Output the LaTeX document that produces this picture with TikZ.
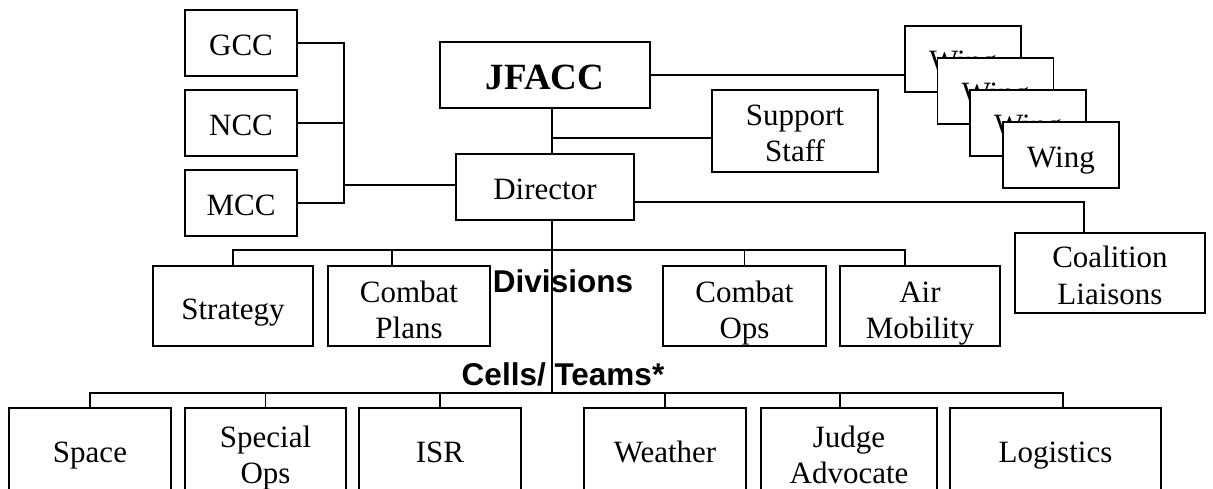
\documentclass[tikz,border=0pt]{standalone}
\usepackage{fontspec}
\setmainfont{Liberation Serif}
\newfontfamily\lsans{Liberation Sans}
\begin{document}
\begin{tikzpicture}[x=1pt,y=1pt,
  box/.style={draw=black, line width=1.3pt, fill=white, inner sep=0pt, align=center,
              font=\fontsize{31}{36}\selectfont},
  one/.style={text height=26pt, text depth=0pt},
  two/.style={text height=64pt, text depth=0pt},
  conn/.style={line width=1.3pt},
  lbl/.style={font=\lsans\bfseries\fontsize{31.5}{34}\selectfont, inner sep=0pt, anchor=base}]
\useasboundingbox (0,0) rectangle (1213,-489);
\clip (0,0) rectangle (1213,-489);
% coordinates for buses
\coordinate (lbus) at (344,0);
\coordinate (main) at (552,0);
\coordinate (divbus) at (0,-250);
\coordinate (cellbus) at (0,-393);
% labels
\node[lbl] (div) at (563,-292) {Divisions};
\node[lbl] (cells) at (563,-385) {Cells/ Teams*};
% top nodes
\node[box, one, minimum width=112, minimum height=66] (gcc) at (241,-43) {GCC};
\node[box, one, minimum width=112, minimum height=66] (ncc) at (241,-123) {NCC};
\node[box, one, minimum width=112, minimum height=66] (mcc) at (241,-203) {MCC};
\node[box, minimum width=210, minimum height=66, text height=30pt, text depth=0pt,
      font=\bfseries\fontsize{37}{40}\selectfont] (jfacc) at (545,-75) {JFACC};
\node[box, two, text height=62pt, minimum width=166, minimum height=82] (support) at (795,-131) {Support\\Staff};
\node[box, one, minimum width=178, minimum height=66] (director) at (545,-187) {Director};
\node[box, one, minimum width=116, minimum height=66] (wing1) at (963,-59) {Wing};
\node[box, one, minimum width=116, minimum height=66] (wing2) at (995.5,-91) {Wing};
\node[box, one, minimum width=116, minimum height=66] (wing3) at (1028,-123) {Wing};
\node[box, one, minimum width=116, minimum height=66] (wing4) at (1061,-155) {Wing};
\node[box, two, text height=62pt, minimum width=190, minimum height=80] (coalition) at (1110,-273) {Coalition\\Liaisons};
% divisions
\node[box, one, minimum width=160, minimum height=80] (strategy) at (233,-306) {Strategy};
\node[box, two, minimum width=162, minimum height=80] (cplans) at (409,-306) {Combat\\Plans};
\node[box, two, minimum width=163, minimum height=80] (cops) at (744.5,-306) {Combat\\Ops};
\node[box, two, minimum width=160, minimum height=80] (airmob) at (920,-306) {Air\\Mobility};
% cells
\node[box, one, text height=22pt, minimum width=162, minimum height=86] (space) at (90,-451) {Space};
\node[box, two, minimum width=161, minimum height=86] (specops) at (265.5,-451) {Special\\Ops};
\node[box, one, text height=22pt, minimum width=162, minimum height=86] (isr) at (440,-451) {ISR};
\node[box, one, text height=22pt, minimum width=162, minimum height=86] (weather) at (665,-451) {Weather};
\node[box, two, minimum width=176, minimum height=86] (judge) at (849,-451) {Judge\\Advocate};
\node[box, one, text height=22pt, minimum width=211, minimum height=86] (logistics) at (1055.5,-451) {Logistics};
% connectors: component commanders
\draw[conn] (gcc.east) -- (gcc.east -| lbus) -- (mcc.east -| lbus) -- (mcc.east);
\draw[conn] (ncc.east) -- (ncc.east -| lbus);
\draw[conn] ([yshift=2pt]director.west) -- ([yshift=2pt]director.west -| lbus);
% JFACC to wings, director, support
\draw[conn] (jfacc.east) -- (jfacc.east -| wing1.west);
\draw[conn] (jfacc.south -| main) -- (director.north -| main);
\draw[conn] ([yshift=-7pt]support.west) -- ([yshift=-7pt]support.west -| main);
\draw[conn] ([yshift=-15pt]director.east) -| ([xshift=-26pt]coalition.north);
% main trunk
\draw[conn] (director.south -| main) -- (cellbus -| main);
% divisions bus
\draw[conn] (strategy.north) |- ([xshift=-15pt]airmob.north |- divbus) -- ([xshift=-15pt]airmob.north);
\draw[conn] ([xshift=-17pt]cplans.north) -- ([xshift=-17pt]cplans.north |- divbus);
\draw[conn] (cops.north) -- (cops.north |- divbus);
% cells bus
\draw[conn] (space.north) |- ([xshift=7.5pt]logistics.north |- cellbus) -- ([xshift=7.5pt]logistics.north);
\draw[conn] (specops.north) -- (specops.north |- cellbus);
\draw[conn] (isr.north) -- (isr.north |- cellbus);
\draw[conn] (weather.north) -- (weather.north |- cellbus);
\draw[conn] ([xshift=-9pt]judge.north) -- ([xshift=-9pt]judge.north |- cellbus);
\end{tikzpicture}
\end{document}
